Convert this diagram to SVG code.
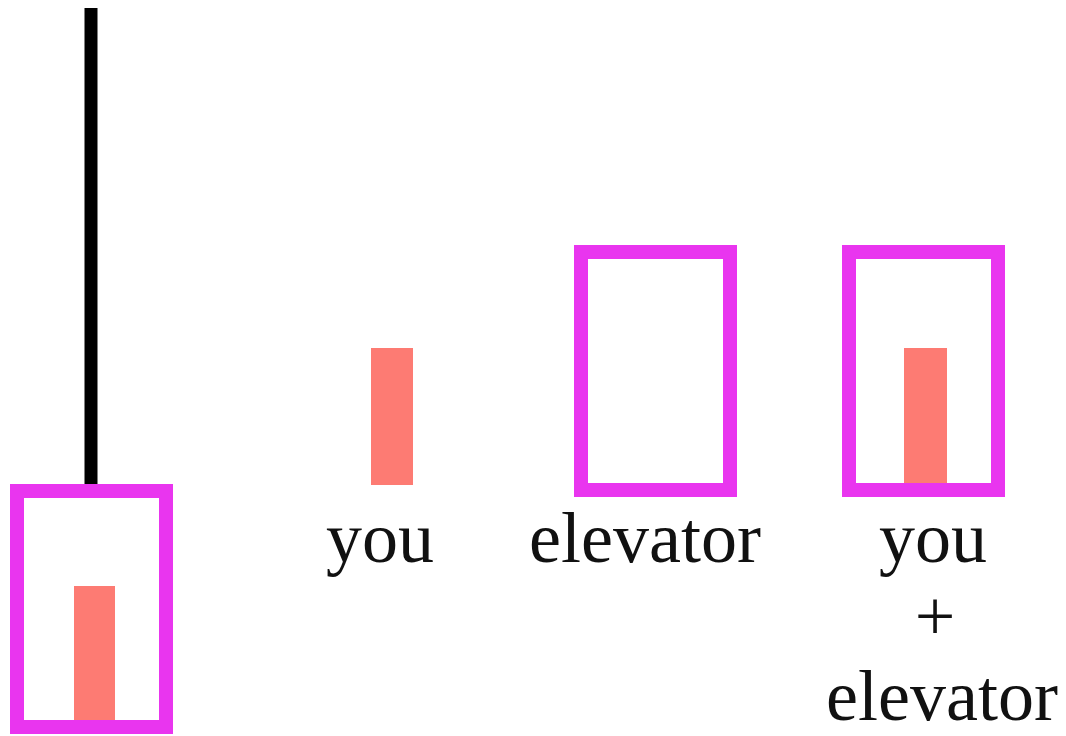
<svg xmlns="http://www.w3.org/2000/svg" width="1066" height="736" viewBox="0 0 1066 736">
<style>
.box{fill:none;stroke:#e935ef;stroke-width:14}
.bar{fill:#fd7b73}
.lbl{font-family:"Liberation Serif","Times New Roman",serif;font-size:72px;fill:#111;text-anchor:middle}
</style>
<rect width="1066" height="736" fill="#fff"/>
<g id="connectors">
<line x1="91" y1="8" x2="91" y2="497" stroke="#000" stroke-width="13"/>
</g>
<g id="hanging-elevator">
<rect class="bar" x="74" y="586" width="41" height="137"/>
<rect class="box" x="17" y="491" width="149" height="236"/>
</g>
<g id="you">
<rect class="bar" x="371" y="348" width="42" height="137"/>
<text class="lbl" x="380" y="562">you</text>
</g>
<g id="elevator">
<rect class="box" x="581" y="252" width="149" height="238"/>
<text class="lbl" x="645" y="562">elevator</text>
</g>
<g id="you-plus-elevator">
<rect class="bar" x="904" y="348" width="43" height="137"/>
<rect class="box" x="849" y="252" width="149" height="238"/>
<text class="lbl" x="933" y="562">you</text>
<text class="lbl" x="935" y="640">+</text>
<text class="lbl" x="942" y="720">elevator</text>
</g>
</svg>
